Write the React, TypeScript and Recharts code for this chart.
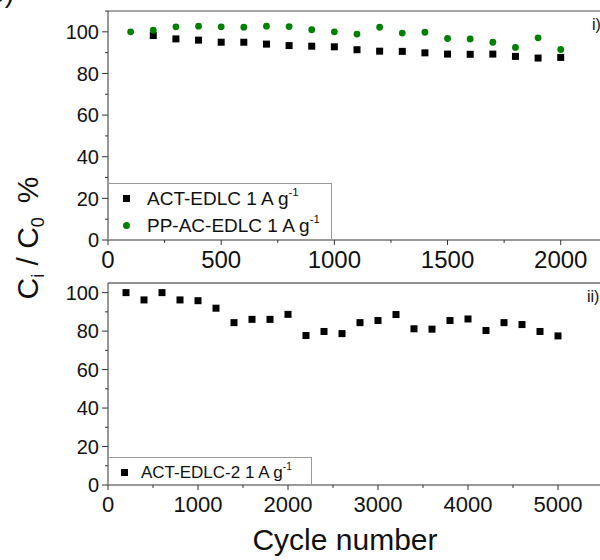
import {
  ScatterChart,
  Scatter,
  XAxis,
  YAxis,
  Legend,
  ReferenceLine
} from "recharts";

// panel i) : 2000 cycles
const cyclesTop = [
  100, 200, 300, 400, 500, 600, 700, 800, 900, 1000,
  1100, 1200, 1300, 1400, 1500, 1600, 1700, 1800, 1900, 2000
];
const ppAcEdlc = [
  100.0, 100.8, 102.4, 102.7, 102.4, 102.2, 102.7, 102.5, 101.0, 100.0,
  98.9, 102.2, 99.4, 99.8, 96.8, 96.6, 95.0, 92.5, 97.1, 91.5
];
// ACT-EDLC starts at 200 cycles
const actEdlc = [
  98.2, 96.6, 96.0, 95.0, 95.0, 94.1, 93.4, 93.1, 92.8,
  91.4, 90.7, 90.6, 89.9, 89.3, 89.2, 89.3, 88.2, 87.4, 87.7
];

// panel ii) : 5000 cycles
const cyclesBottom = [
  200, 400, 600, 800, 1000, 1200, 1400, 1600, 1800, 2000,
  2200, 2400, 2600, 2800, 3000, 3200, 3400, 3600, 3800, 4000,
  4200, 4400, 4600, 4800, 5000
];
const actEdlc2 = [
  100, 96.2, 100, 96.2, 95.8, 91.9, 84.4, 86.1, 86.1, 88.7,
  77.7, 79.8, 78.7, 84.4, 85.5, 88.6, 81.2, 81.0, 85.5, 86.3,
  80.3, 84.4, 83.4, 79.8, 77.5
];

const xTicksTop = [0, 250, 500, 750, 1000, 1250, 1500, 1750, 2000];
const xMajorTop = [0, 500, 1000, 1500, 2000];
const xTicksBottom = [0, 500, 1000, 1500, 2000, 2500, 3000, 3500, 4000, 4500, 5000, 5500];
const xMajorBottom = [0, 1000, 2000, 3000, 4000, 5000];
const yTicksTop = [0, 10, 20, 30, 40, 50, 60, 70, 80, 90, 100, 110];
const yTicksBottom = [0, 10, 20, 30, 40, 50, 60, 70, 80, 90, 100];
const yMajor = [0, 20, 40, 60, 80, 100];

const FONT = "'Liberation Sans', Arial, sans-serif";
const AXIS = "#333";
const GREEN = "#008000";

const ppAcData = cyclesTop.map((c, i) => ({ cycle: c, value: ppAcEdlc[i] }));
const actData = cyclesTop.slice(1).map((c, i) => ({ cycle: c, value: actEdlc[i] }));
const act2Data = cyclesBottom.map((c, i) => ({ cycle: c, value: actEdlc2[i] }));

const Square = (props: any) => (
  <rect x={props.cx - 3.5} y={props.cy - 3.5} width={7} height={7} fill="#000" />
);
const Dot = (props: any) => <circle cx={props.cx} cy={props.cy} r={3.4} fill={GREEN} />;

const makeXTick = (majors: number[], fontSize: number, gap: number) => (props: any) => {
  const { x, y, payload } = props;
  const major = majors.includes(payload.value);
  return (
    <g>
      <line x1={x} x2={x} y1={y} y2={y + (major ? 5 : 3)} stroke={AXIS} />
      {major && (
        <text x={x} y={y + gap} textAnchor="middle" fontSize={fontSize} fill="#111" fontFamily={FONT}>
          {payload.value}
        </text>
      )}
    </g>
  );
};

const makeYTick = (fontSize: number) => (props: any) => {
  const { x, y, payload } = props;
  const major = yMajor.includes(payload.value);
  return (
    <g>
      <line x1={x - (major ? 6 : 3)} x2={x} y1={y} y2={y} stroke={AXIS} />
      {major && (
        <text x={x - 9} y={y} dy="0.36em" textAnchor="end" fontSize={fontSize} fill="#111" fontFamily={FONT}>
          {payload.value}
        </text>
      )}
    </g>
  );
};

type Item = { name: string; shape: "square" | "circle" };

const LegendBox = ({ items, fontSize, markerX, textX }: { items: Item[]; fontSize: number; markerX: number; textX: number }) => (
  <div
    style={{
      width: "100%",
      height: "100%",
      boxSizing: "border-box",
      border: "1px solid #999",
      background: "#fff",
      fontFamily: FONT,
      fontSize,
      color: "#111",
      paddingTop: 1
    }}
  >
    {items.map((it) => (
      <div key={it.name} style={{ position: "relative", height: 27, lineHeight: "27px" }}>
        <span
          style={{
            position: "absolute",
            left: markerX - 3.5,
            top: 10,
            width: 7,
            height: 7,
            borderRadius: it.shape === "circle" ? "50%" : 0,
            background: it.shape === "circle" ? GREEN : "#000"
          }}
        />
        <span style={{ position: "absolute", left: textX, whiteSpace: "nowrap" }}>
          {it.name}
          <span style={{ fontSize: fontSize * 0.6, position: "relative", top: -fontSize * 0.45 }}>-1</span>
        </span>
      </div>
    ))}
  </div>
);

export default function App() {
  return (
    <div
      style={{
        position: "absolute",
        top: 0,
        left: 0,
        width: 600,
        height: 560,
        overflow: "hidden",
        background: "#fff",
        fontFamily: FONT
      }}
    >
      <div style={{ position: "absolute", top: 0, left: 0 }}>
        <ScatterChart width={606} height={290} margin={{ top: 11, right: 0, left: 0, bottom: 20 }}>
          <XAxis
            type="number"
            dataKey="cycle"
            domain={[0, 2200]}
            ticks={xTicksTop}
            interval={0}
            height={30}
            tickSize={0}
            tickMargin={0}
            stroke={AXIS}
            tick={makeXTick(xMajorTop, 24, 28)}
          />
          <YAxis
            type="number"
            dataKey="value"
            domain={[0, 110]}
            ticks={yTicksTop}
            interval={0}
            width={108}
            tickSize={0}
            tickMargin={0}
            stroke={AXIS}
            tick={makeYTick(20)}
          />
          <ReferenceLine y={110} stroke="#888" strokeWidth={1.5} />
          <Legend
            layout="vertical"
            align="center"
            verticalAlign="middle"
            wrapperStyle={{ left: 108, top: 183, width: 224, height: 57 }}
            content={() => (
              <LegendBox
                fontSize={19}
                markerX={17}
                textX={38}
                items={[
                  { name: "ACT-EDLC 1 A g", shape: "square" },
                  { name: "PP-AC-EDLC 1 A g", shape: "circle" }
                ]}
              />
            )}
          />
          <Scatter name="ACT-EDLC" data={actData} shape={Square} isAnimationActive={false} />
          <Scatter name="PP-AC-EDLC" data={ppAcData} shape={Dot} isAnimationActive={false} />
        </ScatterChart>
      </div>

      <div style={{ position: "absolute", top: 270, left: 0 }}>
        <ScatterChart width={603} height={290} margin={{ top: 13, right: 0, left: 0, bottom: 0 }}>
          <XAxis
            type="number"
            dataKey="cycle"
            domain={[0, 5500]}
            ticks={xTicksBottom}
            interval={0}
            height={75}
            tickSize={0}
            tickMargin={0}
            stroke={AXIS}
            tick={makeXTick(xMajorBottom, 22, 27)}
          />
          <YAxis
            type="number"
            dataKey="value"
            domain={[0, 105]}
            ticks={yTicksBottom}
            interval={0}
            width={108}
            tickSize={0}
            tickMargin={0}
            stroke={AXIS}
            tick={makeYTick(20)}
          />
          <ReferenceLine y={105} stroke="#222" />
          <Legend
            layout="vertical"
            align="center"
            verticalAlign="middle"
            wrapperStyle={{ left: 108, top: 187, width: 204, height: 28 }}
            content={() => (
              <LegendBox
                fontSize={17}
                markerX={15}
                textX={32}
                items={[{ name: "ACT-EDLC-2 1 A g", shape: "square" }]}
              />
            )}
          />
          <Scatter name="ACT-EDLC-2" data={act2Data} shape={Square} isAnimationActive={false} />
        </ScatterChart>
      </div>

      <svg
        width={600}
        height={560}
        style={{ position: "absolute", top: 0, left: 0, pointerEvents: "none" }}
        fontFamily={FONT}
      >
        <text x={14} y={2} textAnchor="end" fontSize={28} fill="#111">b)</text>
        <text x={592} y={30} fontSize={16} fill="#111">i)</text>
        <text x={587} y={302} fontSize={16} fill="#111">ii)</text>
        <text x={345} y={550} textAnchor="middle" fontSize={30} fill="#111">Cycle number</text>
        <text transform="translate(38,238) rotate(-90)" textAnchor="middle" fontSize={30} fill="#111">
          C<tspan fontSize={18} dy={6}>i</tspan>
          <tspan dy={-6}> / C</tspan>
          <tspan fontSize={18} dy={6}>0</tspan>
          <tspan dy={-6} dx={14}>%</tspan>
        </text>
      </svg>
    </div>
  );
}
